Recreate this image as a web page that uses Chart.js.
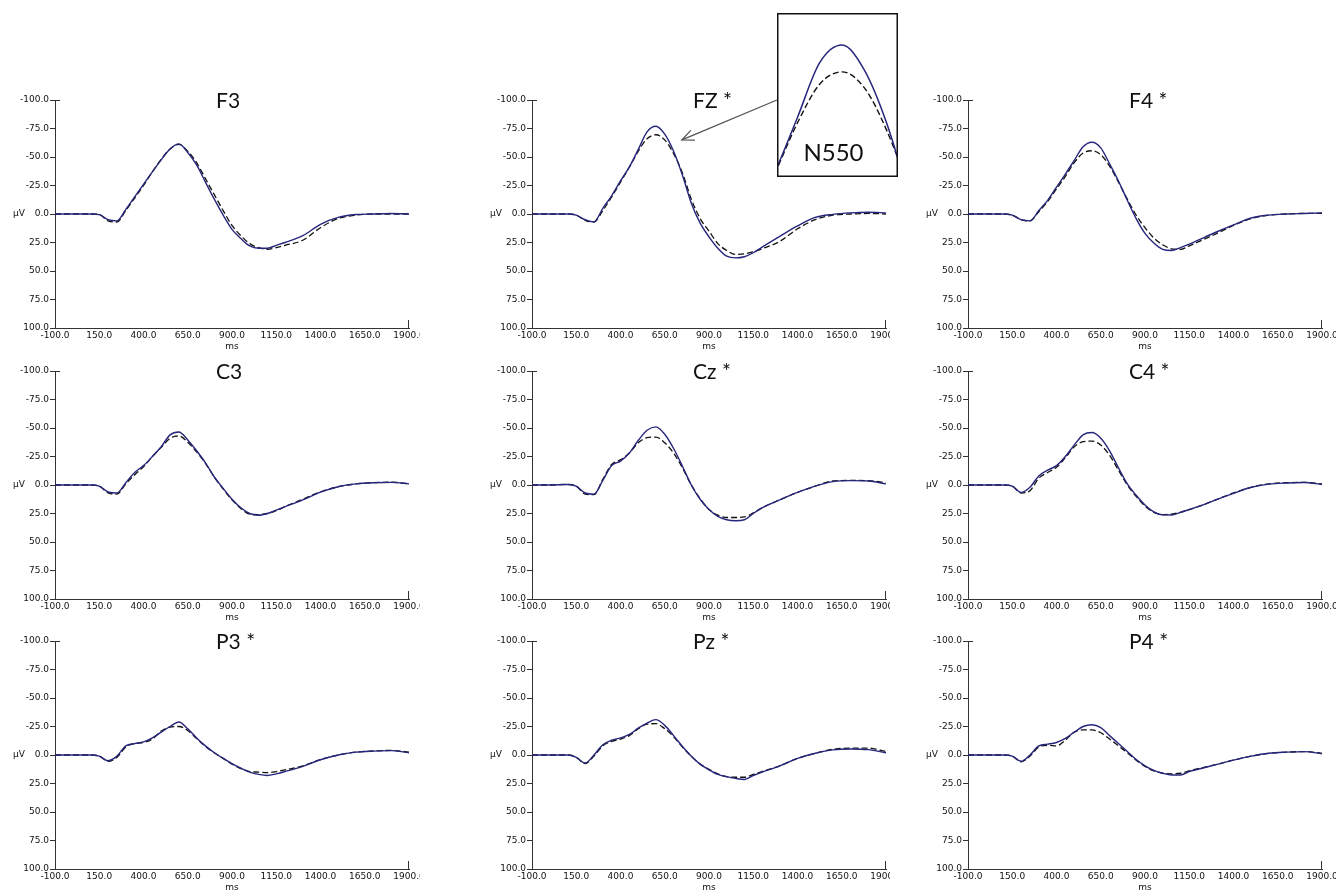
<!DOCTYPE html>
<html><head><meta charset="utf-8">
<script src="https://cdn.jsdelivr.net/npm/chart.js@4.4.1/dist/chart.umd.min.js"></script>
<style>
html,body{margin:0;padding:0;background:#fff;overflow:hidden;width:1336px;height:894px;position:relative}
canvas{position:absolute}
</style></head><body>
<script>
// ---- data (ms, µV; negative is plotted upward) ----
const TIMES = [-100,0,100,150,200,250,300,350,400,450,500,550,600,650,700,750,800,850,900,950,1000,1050,1100,1150,1200,1300,1400,1500,1600,1700,1800,1900];
const TITLES = ['F3','FZ *','F4 *','C3','Cz *','C4 *','P3 *','Pz *','P4 *'];

const F3_SOLID  = [0,0,0,0.5,5,6,-4,-15,-26,-37,-47.5,-57,-61.5,-54,-43,-28,-13,1,13.5,21.5,28,30,30,27.5,25,19,9,3,0.5,0,-0.5,0];
const F3_DASHED = [0,0,0,0.5,6,7,-3,-14,-25,-37,-48,-57,-61,-55,-45,-31,-17,-3,10,19,26,29.5,31,29.5,27.5,23,12,4,1,0,0,0];
const FZ_SOLID  = [0,0,0,1,5,7,-5,-16,-29,-41.3,-56.5,-72,-77,-70,-55,-34,-9.5,8,20,30,37,38.5,37.5,34,29,19.6,10.5,3,0.3,-1,-1.5,-1];
const FZ_DASHED = [0,0,0,1,5.5,7,-3,-15,-28,-41,-55,-66,-69.5,-65,-53,-36,-13,4,15,26,32,35.5,35,33,30.5,24,13,5,1,0,-0.5,0];
const F4_SOLID  = [0,0,0,1,5,6,-3,-12,-23.5,-35,-47,-59,-63,-58,-44,-29,-12,4,17,25.5,31,32,29.5,26.5,23,16,9.5,3.5,1,0,-0.5,-1];
const F4_DASHED = [0,0,0,1,5,6,-2,-11,-22,-33,-45,-53.5,-55.5,-52,-42,-28,-13,1,12,21,27,30.5,31,28,24.5,17.5,10,4,1,0,-0.5,-0.5];
const C3_SOLID  = [0,0,0,1,6,7,-2,-11,-17,-25,-33.5,-44,-46.5,-39.5,-30,-19.5,-7,3,12.5,20,25,26.5,25,22,19,13,6.3,1.5,-1,-2,-2.3,-1];
const C3_DASHED = [0,0,0,1,7,8,-1,-9,-16,-25,-33,-41,-43,-37.5,-29,-19,-7,3.5,13,20.5,25.5,26,25,22.5,19,12.5,6,1.5,-1,-2,-2.5,-1];
const CZ_SOLID  = [0,0,-0.5,1,7,8,-4,-17,-21,-28,-39,-48,-51,-44.5,-32,-16.5,0,12.5,21.5,27.5,30.5,31.3,30.5,25,20,13,6.5,1,-3,-3.8,-3.5,-1];
const CZ_DASHED = [0,0,-0.5,1,8,8.5,-5,-18,-22,-28,-37,-41.5,-42,-37,-28,-15,0,12,21.5,26.5,28.5,28.5,28,24.5,20,13,6.5,1,-3.5,-4,-3.8,-2];
const C4_SOLID  = [0,0,0,1,6.5,2,-8,-13,-17,-25,-35,-44,-46,-41,-30,-15,-1,9,17.5,23.5,26.2,26.3,24,21.5,19,13,7.4,2,-0.8,-1.8,-2.2,-0.5];
const C4_DASHED = [0,0,0,1,7,5,-6,-11,-15.5,-24,-33.5,-38,-38.5,-35,-26,-13,0,10,18.5,24,26,25.5,24,21.5,19,13,7,2,-1,-2,-2.3,-1];
const P3_SOLID  = [0,0,0,1,5,1,-8,-10,-11.5,-15,-20,-25,-29,-23,-15,-8,-2,3,7.5,11.5,15,17,18,16.5,14.5,10,4.2,0,-2.5,-3.4,-3.8,-2];
const P3_DASHED = [0,0,0,1,5.5,2,-7,-10,-11,-14,-21,-24.5,-25,-21.5,-14.5,-7.5,-2,3,8,12,14.5,15,15.5,14.5,13,9.5,4,0,-2.5,-3.5,-4,-2.5];
const PZ_SOLID  = [0,0,0,2,7,0,-9,-13,-15,-18,-23.5,-28,-31,-26,-17,-7.5,1,8,13,17,19,20.5,21.5,18,15,9.5,3,-1.5,-4.5,-5.3,-4.7,-2];
const PZ_DASHED = [0,0,0,2,7.5,1,-8,-12,-14,-17,-23,-27,-27.5,-23,-16,-7,1,8,12.5,16.5,19,19.5,19.5,17,14.5,9.5,3,-1.5,-5,-6,-6,-3];
const P4_SOLID  = [0,0,0,1,5.5,0,-8,-9.5,-11,-14.5,-20,-25,-26.6,-24,-17,-10,-3,4,9.5,13.5,16,17.5,17.5,14.5,12.5,8.5,4.5,1,-1.5,-2.5,-3,-1];
const P4_DASHED = [0,0,0,1,6,1,-7,-8.5,-8,-13,-20,-22,-22,-19.5,-14,-8,-2,4.5,10,14,16,16.5,16,14,12,8.5,4.5,1,-1.5,-2.5,-3,-1.5];

const SOLIDS  = [F3_SOLID, FZ_SOLID, F4_SOLID, C3_SOLID, CZ_SOLID, C4_SOLID, P3_SOLID, PZ_SOLID, P4_SOLID];
const DASHEDS = [F3_DASHED, FZ_DASHED, F4_DASHED, C3_DASHED, CZ_DASHED, C4_DASHED, P3_DASHED, PZ_DASHED, P4_DASHED];

const X_MIN = -100, X_MAX = 1900, X_STEP = 250;
const Y_MIN = -100, Y_MAX = 100, Y_STEP = 25;
const INSET_X = [455, 725], INSET_Y = [-86, -40];
const ARROW_FROM = [1284, -100], ARROW_TO = [747, -65];

// ---- layout ----
const COL_AXIS_X = [55, 532, 968];
const ROW_AXIS_TOP = [100, 371, 641];
const COL_PAD_R = [11, 4, 14];
const PLOT_W = 354, PLOT_H = 228, YAX_W = 55, XAX_H = 24, PAD_T = 10;

const TICK_FONT = {family: '"DejaVu Sans", sans-serif', size: 9};
const TICK_COLOR = '#111';
const SOLID_COLOR = '#26267c';

function series(vals){ return TIMES.map((t, k) => ({x: t, y: vals[k]})); }

const decorPlugin = {
  id: 'decor',
  afterDraw(chart, args, opts){
    const ctx = chart.ctx, a = chart.chartArea;
    const xs = chart.scales.x, ys = chart.scales.y;
    ctx.save();
    if (opts.inset) {
      ctx.strokeStyle = '#111'; ctx.lineWidth = 1.5;
      ctx.strokeRect(a.left + 0.75, a.top + 0.75, a.right - a.left - 1.5, a.bottom - a.top - 1.5);
      ctx.fillStyle = '#111';
      ctx.font = '24px Lato, "Open Sans", sans-serif';
      ctx.textAlign = 'center'; ctx.textBaseline = 'middle';
      ctx.fillText('N550', (a.left + a.right) / 2 - 4, a.bottom - 24);
      ctx.restore();
      return;
    }
    // end tick marks as in the original software plot
    ctx.strokeStyle = '#333'; ctx.lineWidth = 1;
    const xEnd = Math.round(xs.getPixelForValue(X_MAX)) - 0.5;
    ctx.beginPath(); ctx.moveTo(xEnd, a.bottom); ctx.lineTo(xEnd, a.bottom - 8); ctx.stroke();
    const yTop = Math.round(ys.getPixelForValue(Y_MIN)) + 0.5;
    ctx.beginPath(); ctx.moveTo(a.left, yTop); ctx.lineTo(a.left + 5, yTop); ctx.stroke();

    const y0 = ys.getPixelForValue(0);
    ctx.fillStyle = TICK_COLOR;
    ctx.font = '9px "DejaVu Sans", sans-serif';
    ctx.textAlign = 'left'; ctx.textBaseline = 'middle';
    ctx.fillText('µV', a.left - 42, y0);
    ctx.fillStyle = '#111';
    ctx.font = '21px Lato, "Open Sans", sans-serif';
    ctx.fillText(opts.title, (a.left + a.right) / 2 - 16, a.top + 1);
    if (opts.arrow) {
      const x1 = xs.getPixelForValue(opts.arrow.from[0]), y1 = ys.getPixelForValue(opts.arrow.from[1]);
      const x2 = xs.getPixelForValue(opts.arrow.to[0]), y2 = ys.getPixelForValue(opts.arrow.to[1]);
      const ang = Math.atan2(y2 - y1, x2 - x1), L = 13, sp = 0.42;
      ctx.strokeStyle = '#555'; ctx.lineWidth = 1.3;
      ctx.beginPath(); ctx.moveTo(x1, y1); ctx.lineTo(x2, y2); ctx.stroke();
      ctx.beginPath();
      ctx.moveTo(x2 - L * Math.cos(ang - sp), y2 - L * Math.sin(ang - sp));
      ctx.lineTo(x2, y2);
      ctx.lineTo(x2 - L * Math.cos(ang + sp), y2 - L * Math.sin(ang + sp));
      ctx.stroke();
    }
    ctx.restore();
  }
};

function makePanel(i){
  const col = i % 3, row = Math.floor(i / 3);
  const cv = document.createElement('canvas');
  cv.width = YAX_W + PLOT_W + COL_PAD_R[col];
  cv.height = PAD_T + PLOT_H + XAX_H;
  cv.style.left = (COL_AXIS_X[col] - YAX_W) + 'px';
  cv.style.top = (ROW_AXIS_TOP[row] - PAD_T) + 'px';
  document.body.appendChild(cv);
  return new Chart(cv, {
    type: 'line',
    data: { datasets: [
      { data: series(SOLIDS[i]), borderColor: SOLID_COLOR, borderWidth: 1.4, pointRadius: 0, cubicInterpolationMode: 'monotone', fill: false },
      { data: series(DASHEDS[i]), borderColor: '#111', borderWidth: 1.3, borderDash: [6, 3], pointRadius: 0, cubicInterpolationMode: 'monotone', fill: false }
    ]},
    options: {
      responsive: false, animation: false, devicePixelRatio: 1, events: [],
      layout: { padding: { left: 0, top: PAD_T, right: COL_PAD_R[col], bottom: 0 } },
      plugins: { legend: {display: false}, tooltip: {enabled: false},
        decor: { title: TITLES[i], arrow: i === 1 ? {from: ARROW_FROM, to: ARROW_TO} : null } },
      scales: {
        x: { type: 'linear', min: X_MIN, max: X_MAX,
          ticks: { stepSize: X_STEP, autoSkip: false, maxRotation: 0, padding: 2, font: TICK_FONT, color: TICK_COLOR, callback: v => v.toFixed(1) },
          grid: { drawOnChartArea: false, drawTicks: false },
          border: { color: '#333', width: 1 },
          title: { display: true, text: 'ms', padding: 0, font: TICK_FONT, color: TICK_COLOR },
          afterFit(s){ s.height = XAX_H; s.paddingLeft = 0; s.paddingRight = 0; } },
        y: { type: 'linear', min: Y_MIN, max: Y_MAX, reverse: true,
          ticks: { stepSize: Y_STEP, padding: 1, font: TICK_FONT, color: TICK_COLOR, callback: v => v.toFixed(1) },
          grid: { drawOnChartArea: false, tickLength: 5, color: '#333' },
          border: { color: '#333', width: 1 },
          afterFit(s){ s.width = YAX_W; s.paddingTop = 0; s.paddingBottom = 0; } }
      }
    },
    plugins: [decorPlugin]
  });
}

for (let i = 0; i < 9; i++) makePanel(i);

// inset: zoom on the FZ N550 peak
(function(){
  const cv = document.createElement('canvas');
  cv.width = 121; cv.height = 164;
  cv.style.left = '777px'; cv.style.top = '13px';
  document.body.appendChild(cv);
  new Chart(cv, {
    type: 'line',
    data: { datasets: [
      { data: series(FZ_SOLID), borderColor: SOLID_COLOR, borderWidth: 1.5, pointRadius: 0, cubicInterpolationMode: 'monotone' },
      { data: series(FZ_DASHED), borderColor: '#111', borderWidth: 1.4, borderDash: [6, 3], pointRadius: 0, cubicInterpolationMode: 'monotone' }
    ]},
    options: {
      responsive: false, animation: false, devicePixelRatio: 1, events: [],
      layout: { padding: 0 },
      plugins: { legend: {display: false}, tooltip: {enabled: false}, decor: { inset: true } },
      scales: {
        x: { type: 'linear', min: INSET_X[0], max: INSET_X[1], display: false },
        y: { type: 'linear', min: INSET_Y[0], max: INSET_Y[1], reverse: true, display: false }
      }
    },
    plugins: [decorPlugin]
  });
})();
</script>
</body></html>
